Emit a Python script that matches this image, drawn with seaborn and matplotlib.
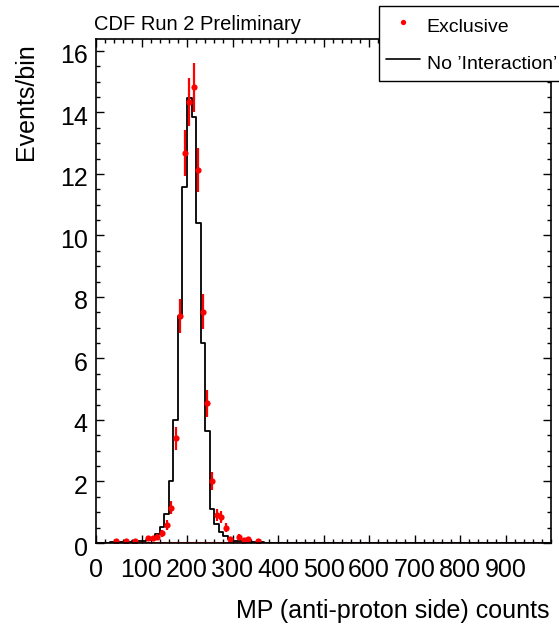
import numpy as np
import pandas as pd
import matplotlib
matplotlib.use("Agg")
import matplotlib.pyplot as plt
from matplotlib.lines import Line2D
from matplotlib.ticker import MultipleLocator
from matplotlib.transforms import ScaledTranslation
import seaborn as sns

# ---- data ----
bin_width = 10
x_range = (0, 1000)
mc_values_lowrange = [0.0, 0.0, 0.01, 0.02, 0.03, 0.03, 0.04, 0.04, 0.05, 0.06,
                      0.08, 0.10, 0.16, 0.30, 0.52, 0.94, 2.00, 3.99, 7.38, 11.59,
                      14.47, 13.84, 10.41, 6.52, 3.64, 1.10, 0.63, 0.37, 0.23, 0.13,
                      0.08, 0.06, 0.05, 0.04, 0.03, 0.02, 0.02, 0.01, 0.01, 0.0]
n_bins = (x_range[1] - x_range[0]) // bin_width
mc_values = mc_values_lowrange + [0.0] * (n_bins - len(mc_values_lowrange))
mc_centers = [x_range[0] + bin_width * (i + 0.5) for i in range(n_bins)]

data_x = [45, 65, 85, 115, 125, 135, 145, 155, 165, 175, 185, 195, 205, 215,
          225, 235, 245, 255, 265, 275, 285, 295, 315, 325, 335, 355]
data_y = [0.05, 0.05, 0.05, 0.15, 0.15, 0.19, 0.31, 0.58, 1.15, 3.40, 7.39, 12.68,
          14.34, 14.82, 12.13, 7.52, 4.54, 2.01, 0.90, 0.85, 0.50, 0.12, 0.20, 0.09,
          0.12, 0.07]
data_err = [0.04, 0.04, 0.04, 0.08, 0.08, 0.09, 0.12, 0.16, 0.22, 0.38, 0.56, 0.74,
            0.78, 0.80, 0.73, 0.57, 0.44, 0.29, 0.20, 0.19, 0.15, 0.07, 0.09, 0.06,
            0.07, 0.05]

x_ticks = list(range(0, 1000, 100))
y_ticks = list(range(0, 17, 2))

title_text = "CDF Run 2 Preliminary"
x_label = "MP (anti-proton side) counts"
y_label = "Events/bin"
legend_labels = ["Exclusive", "No \u2019Interaction\u2019"]

# ---- style ----
sns.set_theme(style="ticks")
plt.rcParams["font.family"] = ["Liberation Sans", "DejaVu Sans"]
plt.rcParams.update({"text.color": "black", "axes.labelcolor": "black",
                     "xtick.color": "black", "ytick.color": "black",
                     "xtick.labelcolor": "black", "ytick.labelcolor": "black"})

fig = plt.figure(figsize=(5.59, 6.25), dpi=100)
ax = fig.add_axes([96 / 559, 82 / 625, 455 / 559, 504 / 625])

mc_df = pd.DataFrame({"x": mc_centers, "w": mc_values})
sns.histplot(data=mc_df, x="x", weights="w", bins=n_bins, binrange=x_range,
             element="step", fill=False, color="black", linewidth=1.3, ax=ax,
             zorder=3)

ax.axhline(0, color="red", lw=2.2, zorder=2)

ax.errorbar(data_x, data_y, yerr=data_err, fmt="none", ecolor="red",
            elinewidth=1.6, capsize=0, zorder=4)
data_df = pd.DataFrame({"x": data_x, "y": data_y})
sns.scatterplot(data=data_df, x="x", y="y", color="red", s=20, linewidth=0,
                ax=ax, zorder=5)

ax.set_xlim(*x_range)
ax.set_ylim(0, 16.39)
ax.set_xticks(x_ticks)
ax.set_yticks(y_ticks)
ax.xaxis.set_minor_locator(MultipleLocator(20))
ax.yaxis.set_minor_locator(MultipleLocator(0.5))
ax.tick_params(which="both", direction="in", top=True, right=True,
               color="black", labelcolor="black", width=1.0)
ax.tick_params(which="major", length=6)
ax.tick_params(which="minor", length=3)
ax.tick_params(axis="x", which="major", labelsize=18, pad=11)
ax.tick_params(axis="y", which="major", labelsize=18, pad=6)
shift_down = ScaledTranslation(0, -3 / 100, fig.dpi_scale_trans)
for tick in ax.yaxis.get_major_ticks():
    tick.label1.set_transform(tick.label1.get_transform() + shift_down)
for sp in ax.spines.values():
    sp.set_color("black")
    sp.set_linewidth(1.2)
    sp.set_zorder(6)
ax.set_xlabel("")
ax.set_ylabel("")

fig.text(26 / 559, 1 - 43 / 625, y_label, rotation=90, ha="center", va="top",
         fontsize=18, color="black")
fig.text(550 / 559, 1 - 611 / 625, x_label, ha="right", va="center", fontsize=18,
         color="black")
fig.text(94 / 559, 1 - 30 / 625, title_text, ha="left", va="baseline",
         fontsize=14.5, color="black")

handles = [
    Line2D([], [], marker="o", color="red", linestyle="none", markersize=3.8,
           markeredgewidth=0),
    Line2D([], [], color="black", lw=1.2),
]
leg = fig.legend(handles, legend_labels, loc="upper left",
                 bbox_to_anchor=(379 / 559, 1 - 6 / 625), fontsize=14,
                 frameon=True, fancybox=False, framealpha=1, edgecolor="black",
                 handlelength=1.75, handletextpad=0.35, borderpad=0.35,
                 handleheight=1.6, labelspacing=0.61, borderaxespad=0,
                 labelcolor="black")
leg.get_frame().set_linewidth(1.0)

fig.savefig("out.png", dpi=100)
